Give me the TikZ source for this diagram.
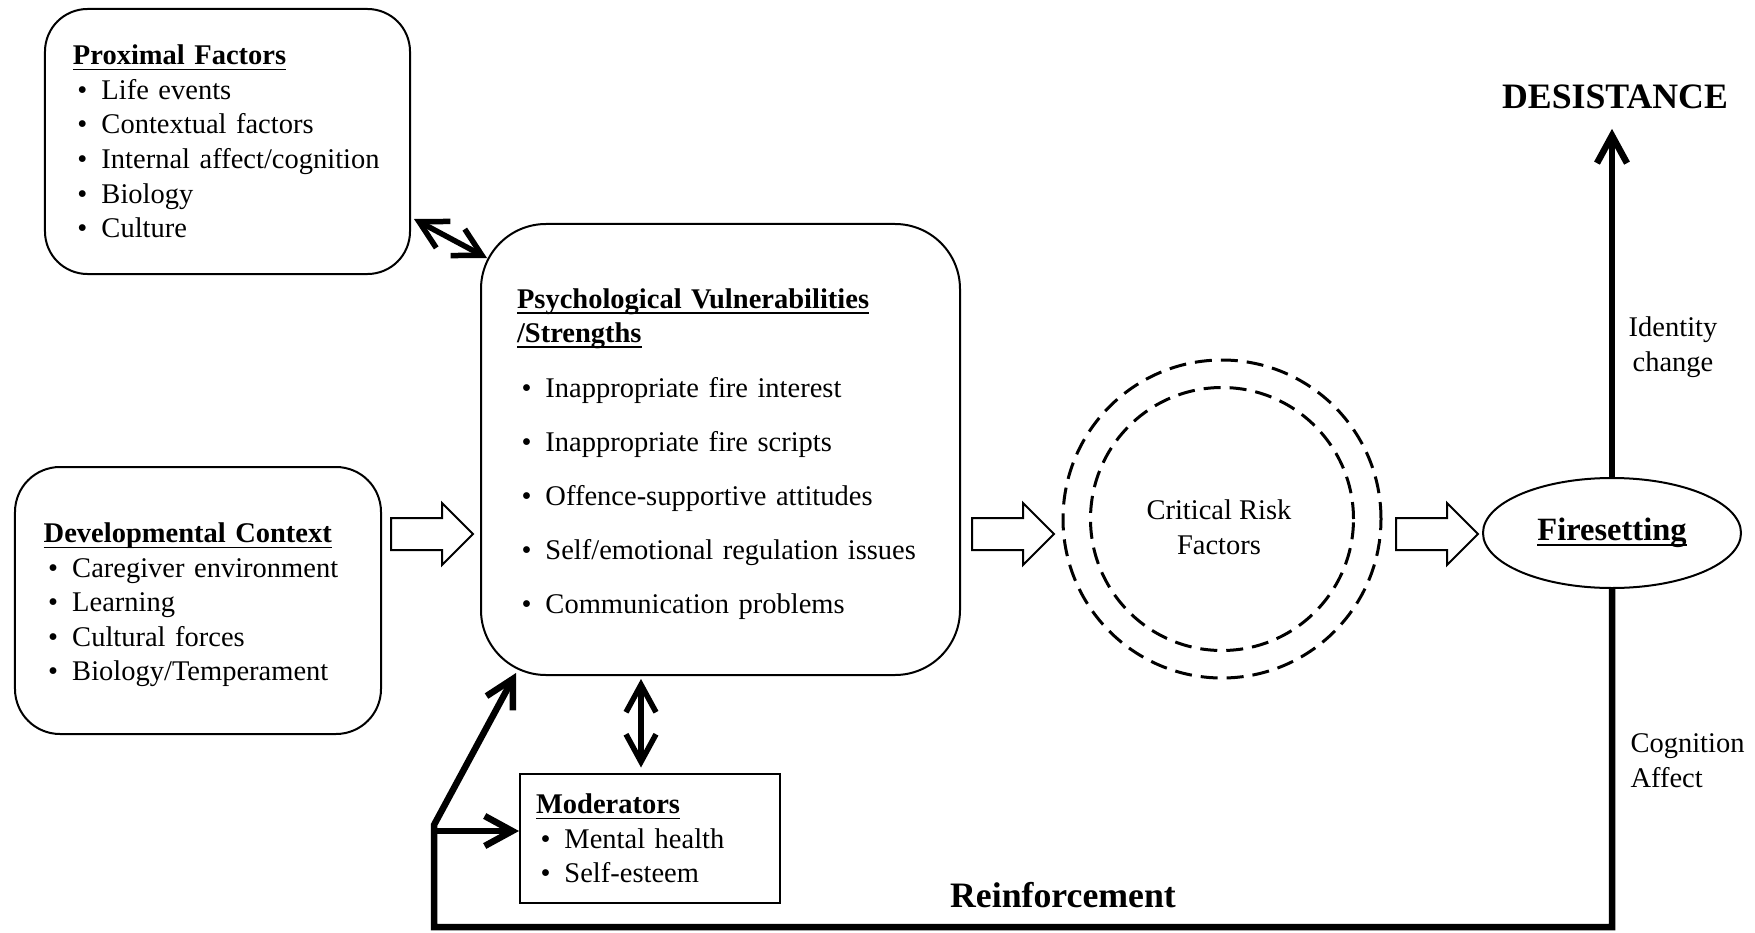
\documentclass[tikz,border=0pt]{standalone}
\usepackage{fontspec}
\setmainfont{Liberation Serif}
\usetikzlibrary{arrows.meta,shapes.geometric,shapes.arrows,positioning}

\newsavebox\hdrbox
\newcommand\hdr[1]{\leavevmode\sbox\hdrbox{\bfseries #1}\rlap{\usebox\hdrbox}\rule[-2.2pt]{\wd\hdrbox}{0.7pt}}
\newcommand\itm[1]{\leavevmode\makebox[11.4pt][l]{\hspace{1.8pt}\textbullet}#1}

\tikzset{
  txt/.style={font=\fontsize{11.4}{13.8}\selectfont},
  big/.style={font=\fontsize{14.3}{17}\selectfont\bfseries},
  rbox/.style={txt, draw, line width=0.8pt, rounded corners=17pt, align=left},
  fatarrow/.style={draw, line width=0.8pt, single arrow, single arrow head extend=6pt,
    single arrow tip angle=90, minimum width=24pt, minimum height=32.8pt,
    inner xsep=0pt, inner ysep=6pt, text height=0pt, text depth=0pt, anchor=tail},
  ring/.style={draw, circle, line width=1.2pt, dash pattern=on 6.8pt off 3.6pt, inner sep=0pt},
  fbline/.style={line width=2.6pt, -{Straight Barb[length=11pt,width=12pt]}},
  twoway/.style={line width=2.2pt, {Straight Barb[length=11pt,width=12pt]}-{Straight Barb[length=11pt,width=12pt]}},
}

\begin{document}
\begin{tikzpicture}[x=0.4pt, y=-0.4pt]
\useasboundingbox (0,0) rectangle (1755,933);

% boxes
\node[rbox, text width=123.6pt, inner xsep=11.2pt, minimum height=106pt] (prox) at (227.5,141.5)
  {\hdr{Proximal Factors}\\ \itm{Life events}\\ \itm{Contextual factors}\\
   \itm{Internal affect/cognition}\\ \itm{Biology}\\ \itm{Culture}};
\node[rbox, rounded corners=18pt, text width=123.4pt, inner xsep=11.5pt, minimum height=106.8pt] (dev) at (198,600.5)
  {\hdr{Developmental Context}\rule{0pt}{11.5pt}\\ \itm{Caregiver environment}\\ \itm{Learning}\\
   \itm{Cultural forces}\\ \itm{Biology/Temperament}};
\node[rbox, rounded corners=26pt, text width=162.8pt, inner xsep=14.4pt, minimum height=180.4pt] (psy) at (720.5,449.5)
  {\hdr{Psychological Vulnerabilities}\rule{0pt}{11.5pt}\\ \hdr{/Strengths}\\[8.1pt]
   \itm{Inappropriate fire interest}\\[7.8pt] \itm{Inappropriate fire scripts}\\[7.8pt]
   \itm{Offence-supportive attitudes}\\[7.8pt] \itm{Self/emotional regulation issues}\\[7.8pt]
   \itm{Communication problems}};
\node[rbox, sharp corners, text width=91.2pt, inner xsep=6.4pt, minimum height=51.6pt] (mod) at (650,838.5)
  {\hdr{Moderators}\\ \itm{Mental health}\\ \itm{Self-esteem}};

% critical risk factors
\node[ring, minimum size=127.2pt] (crfout) at (1222,519) {};
\node[ring, minimum size=105.2pt] (crfin) at (1222,519) {};
\node[txt, align=center] (crf) at (1219,527) {Critical Risk\\Factors};

\node[draw, ellipse, line width=0.8pt, inner sep=0pt, minimum width=103.2pt, minimum height=44pt,
  font=\fontsize{13}{15}\selectfont] (fire) at (1612,533) {\hdr{Firesetting}};

% block arrows
\node[fatarrow] (a1) at (390,534) {};
\node[fatarrow] (a2) at (971,534) {};
\node[fatarrow] (a3) at (1395,534) {};

% labels
\node[big] (des) at (1615,97) {DESISTANCE};
\node[txt, align=center] (idc) at (1673,347) {Identity\\change};
\node[txt, align=left, anchor=west, inner sep=0pt] (cog) at (1630,760.5) {Cognition\\Affect};
\node[big] (reinf) at (1063,895) {Reinforcement};

% connectors
\coordinate (corner) at (434,927);
\coordinate (fork) at (434,825);
\draw[fbline] (fire.north) -- ([yshift=-4.4pt]fire.north |- des.south);
\draw[fbline, line join=miter] (fire.south) |- (corner) -- (fork) -- ([xshift=14.4pt,yshift=1.2pt]psy.south west);
\draw[fbline] ([yshift=3pt]mod.west -| fork) -- ([yshift=3pt]mod.west);
\draw[twoway] ([xshift=1.2pt,yshift=-31pt]prox.east) -- ([xshift=2.8pt,yshift=-14pt]psy.north west);
\draw[twoway] ([xshift=-3.6pt,yshift=-1.2pt]mod.north |- psy.south) -- ([xshift=-3.6pt,yshift=2.2pt]mod.north);
\end{tikzpicture}
\end{document}
